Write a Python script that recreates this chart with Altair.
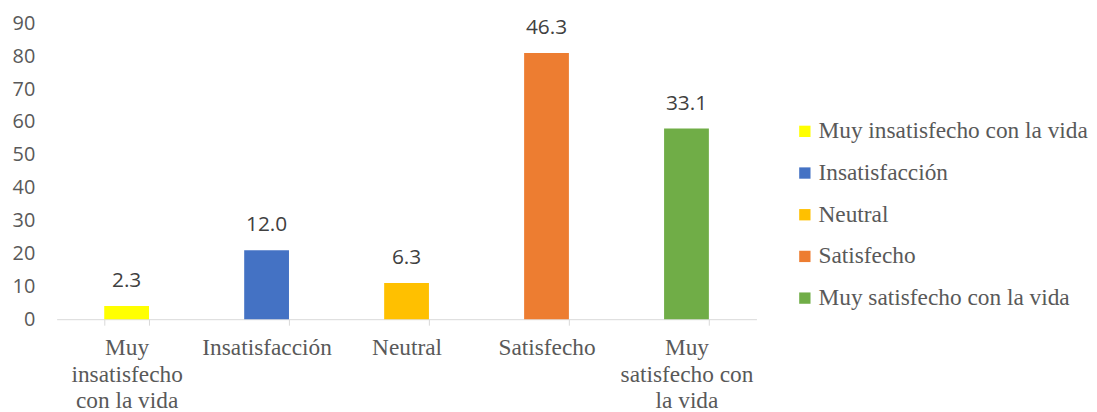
import json
import altair as alt
import pandas as pd

categories = ["Muy insatisfecho con la vida", "Insatisfacción", "Neutral",
              "Satisfecho", "Muy satisfecho con la vida"]
counts = [4, 21, 11, 81, 58]
percents = [2.3, 12.0, 6.3, 46.3, 33.1]
colors = ["#FFFF00", "#4472C4", "#FFC000", "#ED7D31", "#70AD47"]
axis_label_lines = [["Muy", "insatisfecho", "con la vida"], ["Insatisfacción"],
                    ["Neutral"], ["Satisfecho"], ["Muy", "satisfecho con", "la vida"]]
y_ticks = [0, 10, 20, 30, 40, 50, 60, 70, 80, 90]

df = pd.DataFrame({"cat": categories, "count": counts, "pct": percents})
label_map = json.dumps(dict(zip(categories, axis_label_lines)), ensure_ascii=False)

x = alt.X("cat:N", sort=categories, title=None,
          scale=alt.Scale(paddingInner=0.68, paddingOuter=0.34),
          axis=alt.Axis(labelAngle=0, labelFont="Liberation Serif", labelFontSize=23.5,
                        labelColor="#595959", labelLineHeight=26.5, labelPadding=11,
                        tickBand="extent", tickColor="#d9d9d9", tickSize=6,
                        domainColor="#d9d9d9", domainWidth=1, labelLimit=300,
                        labelOverlap=False, labelExpr=f"{label_map}[datum.value]"))
y = alt.Y("count:Q", title=None,
          scale=alt.Scale(domain=[0, 90], nice=False),
          axis=alt.Axis(values=y_ticks, tickCount=10, grid=False, domain=False, ticks=False,
                        labelFont="Open Sans", labelFontSize=20, labelColor="#595959",
                        labelPadding=22, labelOverlap=False))

bars = alt.Chart(df).mark_bar().encode(
    x=x, y=y,
    color=alt.Color("cat:N", sort=categories,
                    scale=alt.Scale(domain=categories, range=colors),
                    legend=alt.Legend(title=None, orient="none", legendX=742, legendY=97,
                                      symbolType="square", symbolSize=130,
                                      symbolStrokeWidth=0, labelOffset=2,
                                      labelFont="Liberation Serif", labelFontSize=23.5,
                                      labelColor="#595959", labelLimit=400,
                                      rowPadding=17, padding=0))
)

labels = alt.Chart(df).mark_text(dy=-19, baseline="alphabetic", font="Open Sans",
                                 fontSize=21, color="#404040").encode(
    x=x, y=y,
    text=alt.Text("pct:Q", format=".1f")
)

chart = (bars + labels).properties(
    width=705, height=298,
    autosize=alt.AutoSizeParams(type="none"),
    padding={"left": 49, "top": 14, "right": 335, "bottom": 96},
    background="white"
).configure_view(stroke=None)

chart.save("out.html", embed_options={"renderer": "svg", "actions": False})
